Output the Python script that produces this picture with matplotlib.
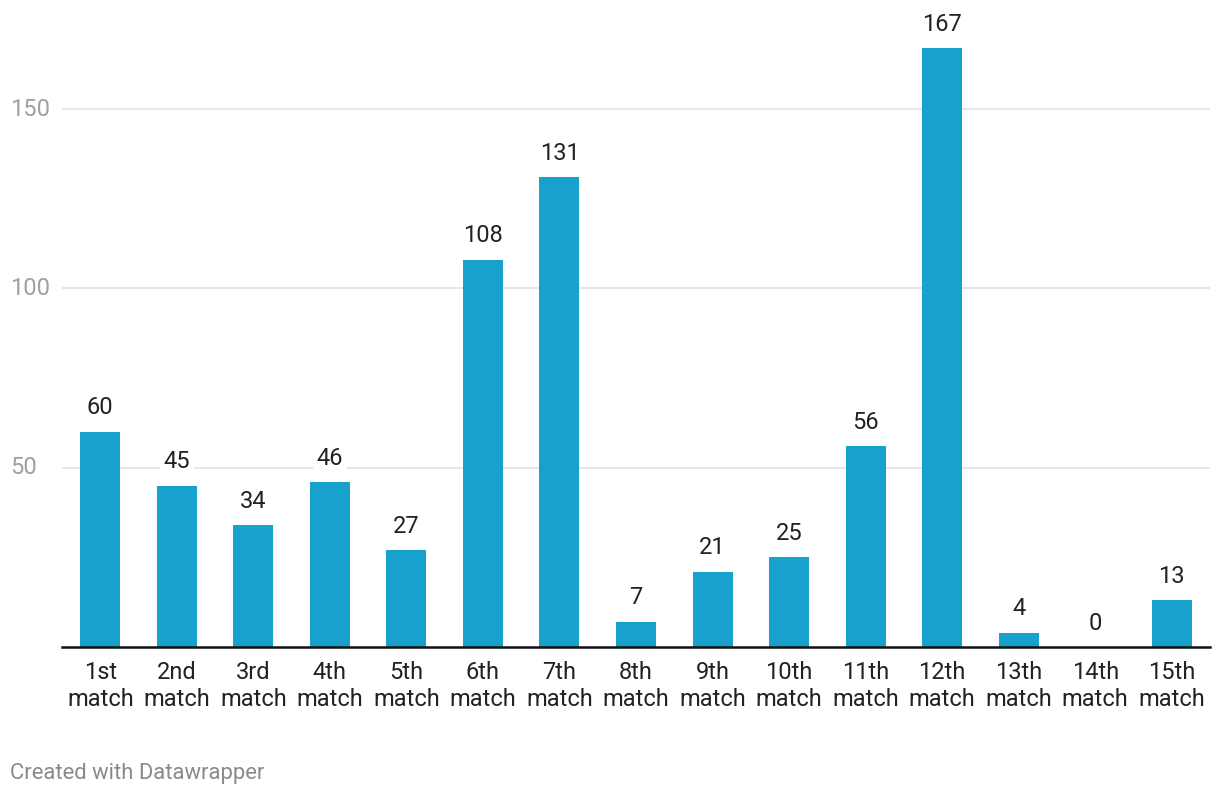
"""Bar chart of points per match, Datawrapper style."""

import matplotlib

matplotlib.use("Agg")

import matplotlib.pyplot as plt  # noqa: E402
from matplotlib.transforms import blended_transform_factory  # noqa: E402

matches = ["1st", "2nd", "3rd", "4th", "5th", "6th", "7th", "8th",
           "9th", "10th", "11th", "12th", "13th", "14th", "15th"]
values = [60, 45, 34, 46, 27, 108, 131, 7, 21, 25, 56, 167, 4, 0, 13]
y_ticks = [50, 100, 150]

BAR = "#18a1cd"
TEXT = "#222222"
GRID = "#e3e3e3"
MUTED = "#a0a0a0"
FS = 17

plt.rcParams["font.family"] = ["Roboto", "DejaVu Sans"]

W, H = 1220, 796
fig = plt.figure(figsize=(W / 100, H / 100), dpi=100)
fig.patch.set_facecolor("white")

# axes placed in pixel coordinates: baseline at y=647, 150 gridline at y=109
px_per_unit = (647 - 109) / 150
ymax = 172
left, right, base = 62, 1210, 647
ax = fig.add_axes([left / W, (H - base) / H, (right - left) / W, ymax * px_per_unit / H])

x = range(len(matches))
ax.bar(x, values, width=0.523, color=BAR, zorder=2)
ax.set_xlim(-0.5, len(matches) - 0.5)
ax.set_ylim(0, ymax)

for spine in ("top", "right", "left"):
    ax.spines[spine].set_visible(False)
ax.spines["bottom"].set_color("#111111")
ax.spines["bottom"].set_linewidth(1.8)
ax.spines["bottom"].set_zorder(4)

# gridlines with labels drawn as text at the figure's left edge
ax.set_yticks(y_ticks)
ax.set_yticklabels([])
ax.yaxis.grid(True, color=GRID, linewidth=1.2, zorder=0)
ax.tick_params(axis="y", length=0)
lab_tr = blended_transform_factory(fig.transFigure, ax.transData)
for t in y_ticks:
    ax.text(10 / W, t, str(t), transform=lab_tr, ha="left", va="center",
            fontsize=FS, color=MUTED)

ax.set_xticks(list(x))
ax.set_xticklabels([f"{m}\nmatch" for m in matches], linespacing=1.22)
ax.tick_params(axis="x", length=0, pad=10, labelsize=FS, labelcolor=TEXT)

for xi, v in zip(x, values):
    ax.annotate(str(v), (xi, v), xytext=(0, 9), textcoords="offset points",
                ha="center", va="bottom", fontsize=FS, color=TEXT, zorder=5,
                bbox=dict(boxstyle="square,pad=0.15", fc="white", ec="none"))

fig.text(10 / W, 1 - 773 / H, "Created with Datawrapper", fontsize=15.8,
         color="#8a8a8a", va="center", ha="left")

fig.savefig("out.png", dpi=100, facecolor="white")
